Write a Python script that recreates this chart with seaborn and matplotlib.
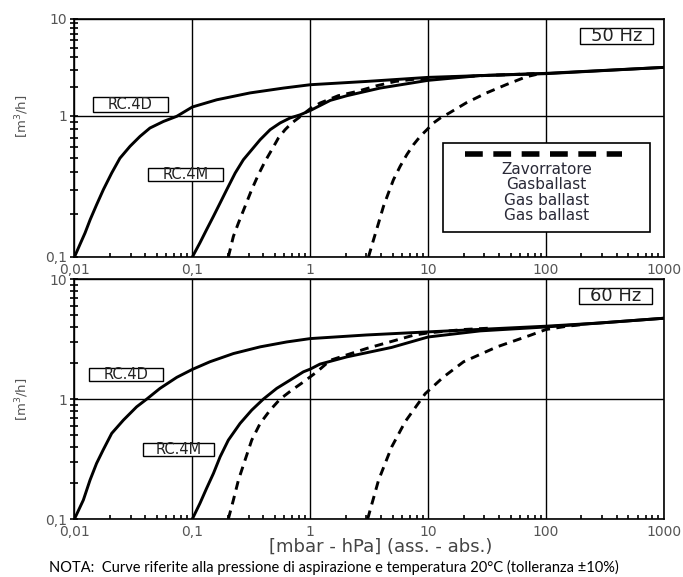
import numpy as np
import pandas as pd
import seaborn as sns
import matplotlib.pyplot as plt
from matplotlib.patches import Rectangle
from matplotlib.ticker import FixedLocator, NullFormatter

# --- 50 Hz curves (pressure mbar, flow m3/h) ---
x_4d_50 = [0.01, 0.0111, 0.0123, 0.0136, 0.0154, 0.0176, 0.0207, 0.0243, 0.0296, 0.036, 0.0437,
           0.0568, 0.0738, 0.1, 0.161, 0.309, 0.593, 1, 3, 10, 100, 1000]
y_4d_50 = [0.1, 0.122, 0.148, 0.184, 0.234, 0.30, 0.393, 0.50, 0.607, 0.714, 0.818,
           0.91, 0.99, 1.23, 1.46, 1.72, 1.93, 2.09, 2.26, 2.49, 2.74, 3.16]
x_4m_50 = [0.1, 0.116, 0.132, 0.151, 0.172, 0.196, 0.231, 0.271, 0.319, 0.376, 0.457, 0.555,
           0.674, 0.82, 1, 1.48, 2.05, 3.92, 10, 27.7, 100, 1000]
y_4m_50 = [0.1, 0.126, 0.156, 0.194, 0.241, 0.30, 0.393, 0.488, 0.574, 0.676, 0.796, 0.888,
           0.963, 1.02, 1.13, 1.44, 1.61, 1.93, 2.32, 2.6, 2.72, 3.16]
x_4m_gb_50 = [0.202, 0.223, 0.246, 0.28, 0.319, 0.363, 0.414, 0.472, 0.537, 0.612, 0.698, 0.794,
              1, 1.21, 1.73, 2.49, 3.67, 5.26, 8.04, 10, 30, 80]
y_4m_gb_50 = [0.1, 0.14, 0.174, 0.228, 0.30, 0.382, 0.475, 0.574, 0.695, 0.796, 0.888, 0.963,
              1.18, 1.35, 1.61, 1.78, 2.04, 2.26, 2.4, 2.43, 2.6, 2.72]
x_4d_gb_50 = [3.12, 3.44, 3.8, 4.18, 4.61, 5.08, 5.79, 6.6, 7.52, 8.57, 9.77, 11.1, 12.7,
              15.2, 21.1, 31.3, 46.2, 68.3, 83]
y_4d_gb_50 = [0.1, 0.132, 0.174, 0.228, 0.284, 0.352, 0.438, 0.53, 0.624, 0.714, 0.796, 0.888, 0.963,
              1.07, 1.36, 1.72, 2.10, 2.53, 2.67]

# --- 60 Hz curves ---
x_4d_60 = [0.01, 0.0119, 0.01355, 0.0154, 0.0175, 0.0207, 0.026, 0.0337, 0.041, 0.0532, 0.0738,
           0.1, 0.141, 0.223, 0.376, 0.632, 1, 3, 10, 100, 288, 1000]
y_4d_60 = [0.1, 0.144, 0.211, 0.291, 0.376, 0.518, 0.668, 0.863, 1.0, 1.23, 1.52,
           1.77, 2.05, 2.4, 2.73, 3.0, 3.2, 3.43, 3.64, 4.06, 4.32, 4.73]
x_4m_60 = [0.1, 0.116, 0.132, 0.151, 0.172, 0.202, 0.254, 0.319, 0.4, 0.52, 0.674, 0.875,
           1, 1.21, 2.04, 4.9, 10, 27.7, 100, 288, 1000]
y_4m_60 = [0.1, 0.135, 0.18, 0.24, 0.33, 0.455, 0.627, 0.81, 1.0, 1.23, 1.44, 1.69,
           1.78, 1.96, 2.25, 2.7, 3.3, 3.71, 4.0, 4.32, 4.73]
x_4m_gb_60 = [0.202, 0.223, 0.246, 0.28, 0.319, 0.376, 0.457, 0.555, 0.698, 0.875, 1.14,
              1.48, 3.02, 7.5, 10, 20, 35]
y_4m_gb_60 = [0.1, 0.144, 0.211, 0.31, 0.455, 0.627, 0.81, 1.0, 1.19, 1.39, 1.69,
              2.11, 2.65, 3.41, 3.57, 3.81, 3.92]
x_4d_gb_60 = [3.07, 3.8, 4.9, 6.4, 9.45, 13.5, 20, 38.4, 73.6, 100, 151, 210]
y_4d_gb_60 = [0.1, 0.211, 0.398, 0.65, 1.11, 1.53, 2.05, 2.73, 3.41, 3.81, 4.06, 4.2]

x_ticks = [0.01, 0.1, 1, 10, 100, 1000]
x_ticklabels = ['0,01', '0,1', '1', '10', '100', '1000']
y_ticks = [0.1, 1, 10]
y_ticklabels = ['0,1', '1', '10']
legend_lines = ['Zavorratore', 'Gasballast', 'Gas ballast', 'Gas ballast']

sns.set_theme(style='white')
plt.rcParams['font.family'] = ['DejaVu Sans']

fig = plt.figure(figsize=(6.83, 5.77), dpi=100)
ax1 = fig.add_axes([0.109, 0.5546, 0.863, 0.4125])
ax2 = fig.add_axes([0.109, 0.1005, 0.863, 0.4155])

DASH = (0, (3, 2.2))


def curves_df(curves):
    rows = []
    for name, xs, ys in curves:
        for a, b in zip(xs, ys):
            rows.append((name, a, b))
    return pd.DataFrame(rows, columns=['curve', 'x', 'y'])


def draw(ax, curves):
    df = curves_df(curves)
    for name, sub in df.groupby('curve', sort=False):
        ls = DASH if name.endswith('gb') else '-'
        sns.lineplot(data=sub, x='x', y='y', ax=ax, sort=False, estimator=None,
                     color='black', lw=2.1, linestyle=ls, legend=False)


def style(ax):
    ax.set_xscale('log')
    ax.set_xlim(0.01, 1000)
    ax.set_ylim(0.1, 10)
    ax.set_xticks(x_ticks)
    ax.set_xticklabels(x_ticklabels)
    ax.xaxis.set_minor_locator(FixedLocator(
        [m * 10.0 ** e for e in range(-2, 3) for m in range(2, 10)]))
    ax.xaxis.set_minor_formatter(NullFormatter())
    ax.yaxis.set_major_locator(FixedLocator(y_ticks))
    ax.set_yticklabels(y_ticklabels)
    ax.yaxis.set_minor_locator(FixedLocator(
        [m * 10.0 ** e for e in range(-1, 1) for m in range(2, 10)]))
    ax.yaxis.set_minor_formatter(NullFormatter())
    ax.grid(True, which='major', color='black', lw=1)
    ax.grid(False, which='minor')
    for s in ax.spines.values():
        s.set_color('black')
        s.set_linewidth(1.2)
    ax.tick_params(axis='x', which='major', length=0, labelsize=10, labelcolor='#555555', pad=4)
    ax.tick_params(axis='x', which='minor', direction='in', length=3, width=1.2, color='black', bottom=True)
    ax.tick_params(axis='y', which='major', direction='inout', length=6, width=1.2, color='black',
                   labelsize=10, labelcolor='#555555', pad=2, left=True)
    ax.tick_params(axis='y', which='minor', direction='inout', length=6, width=1.2, color='black', left=True)
    ax.set_xlabel('')
    ax.set_ylabel('')


def box_text(ax, x0, y0, x1, y1, text, size):
    ax.add_patch(Rectangle((x0, y0), x1 - x0, y1 - y0, transform=ax.transAxes,
                           facecolor='white', edgecolor='black', lw=1, zorder=5))
    ax.text((x0 + x1) / 2, (y0 + y1) / 2, text, transform=ax.transAxes, ha='center',
            va='center', fontsize=size, color='#222222', zorder=6)


# top panel: the y axis of the original picture is not evenly spaced per decade
def fwd(y):
    t = np.log10(np.maximum(y, 1e-12))
    return np.where(t >= 0, t * 96.7, t * 141.3)


def inv(v):
    return np.where(v >= 0, 10 ** (v / 96.7), 10 ** (v / 141.3))


draw(ax1, [('4d', x_4d_50, y_4d_50), ('4m', x_4m_50, y_4m_50),
           ('4m_gb', x_4m_gb_50, y_4m_gb_50), ('4d_gb', x_4d_gb_50, y_4d_gb_50)])
ax1.set_yscale('function', functions=(fwd, inv))
style(ax1)

draw(ax2, [('4d', x_4d_60, y_4d_60), ('4m', x_4m_60, y_4m_60),
           ('4m_gb', x_4m_gb_60, y_4m_gb_60), ('4d_gb', x_4d_gb_60, y_4d_gb_60)])
ax2.set_yscale('log')
style(ax2)

box_text(ax1, 0.0309, 0.6076, 0.159, 0.672, 'RC.4D', 10.5)
box_text(ax1, 0.125, 0.3176, 0.2514, 0.374, 'RC.4M', 10.5)
box_text(ax1, 0.8575, 0.896, 0.981, 0.963, '50 Hz', 13)
box_text(ax2, 0.025, 0.577, 0.151, 0.629, 'RC.4D', 10.5)
box_text(ax2, 0.116, 0.263, 0.237, 0.316, 'RC.4M', 10.5)
box_text(ax2, 0.856, 0.897, 0.98, 0.962, '60 Hz', 13)

# legend box (top panel)
ax1.add_patch(Rectangle((0.625, 0.106), 0.351, 0.374, transform=ax1.transAxes,
                        facecolor='white', edgecolor='black', lw=1.2, zorder=5))
ax1.plot([0.662, 0.929], [0.434, 0.434], transform=ax1.transAxes, color='black',
         lw=4, linestyle=(0, (3.2, 1.9)), zorder=6)
for i, t in enumerate(legend_lines):
    ax1.text(0.801, 0.367 - i * 0.064, t, transform=ax1.transAxes, ha='center',
             va='center', fontsize=11, color='#2a2a38', zorder=6)

fig.text(0.032, 0.799, '[m$^3$/h]', rotation=90, ha='center', va='center',
         fontsize=9.5, color='#555555')
fig.text(0.032, 0.308, '[m$^3$/h]', rotation=90, ha='center', va='center',
         fontsize=9.5, color='#555555')
fig.text(0.558, 0.052, '[mbar - hPa] (ass. - abs.)', ha='center', va='center',
         fontsize=13, color='#444444')
fig.text(0.489, 0.017, 'NOTA:  Curve riferite alla pressione di aspirazione e temperatura 20°C (tolleranza ±10%)',
         ha='center', va='center', fontsize=10.5, color='black', family=['Lato', 'DejaVu Sans'])

fig.savefig('out.png', dpi=100, facecolor='white')
